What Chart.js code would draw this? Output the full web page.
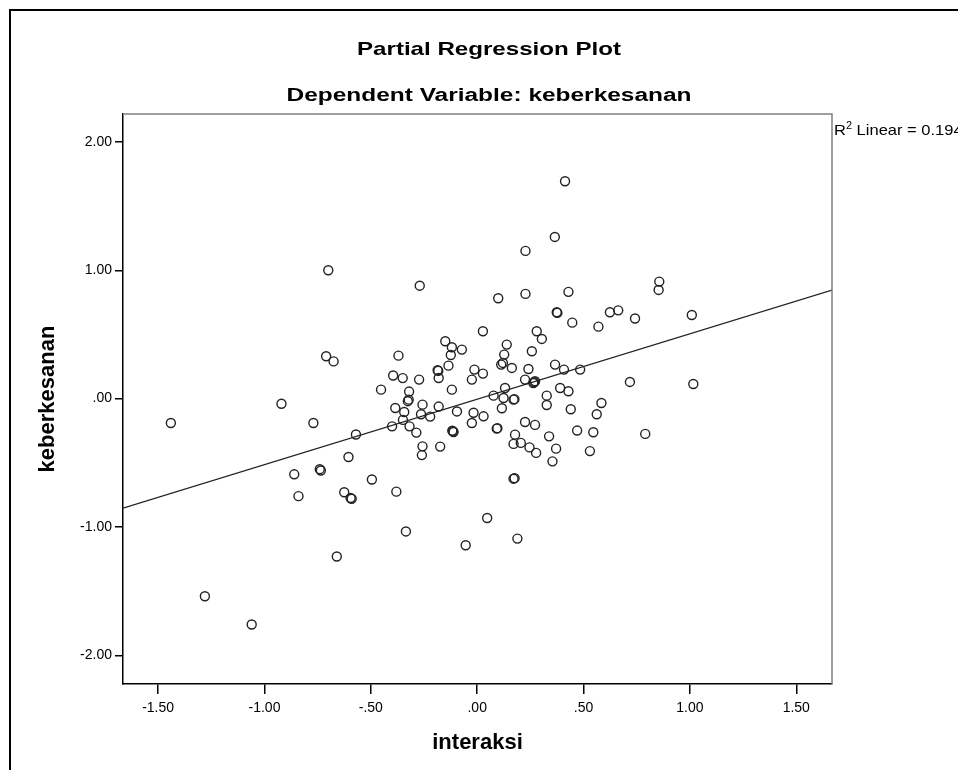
<!DOCTYPE html>
<html>
<head>
<meta charset="utf-8">
<title>Partial Regression Plot</title>
<script src="https://cdn.jsdelivr.net/npm/chart.js@4.4.1/dist/chart.umd.min.js"></script>
<style>
  html, body { margin: 0; padding: 0; background: #fff; }
  canvas { display: block; }
</style>
</head>
<body>
<canvas id="myChart" width="958" height="770"></canvas>
<script>
// values (x = interaksi, y = keberkesanan)
const interaksi = [
  -1.44, -1.28, -1.06, -0.92, -0.77, -0.70, -0.71, -0.675, -0.86, -0.84,
  -0.74, -0.735, -0.66, -0.625, -0.595, -0.59, -0.605, -0.57, -0.495, -0.38,
  -0.335, -0.27, -0.37, -0.395, -0.35, -0.273, -0.452, -0.32, -0.322, -0.326,
  -0.385, -0.343, -0.257, -0.181, -0.264, -0.221, -0.349, -0.40, -0.318, -0.286,
  -0.257, -0.26, -0.174, -0.114, -0.111, -0.117, -0.15, -0.119, -0.072, -0.124,
  -0.135, -0.186, -0.183, -0.181, -0.119, -0.095, -0.017, -0.025, 0.03, -0.013,
  0.027, -0.025, 0.027, 0.099, 0.227, 0.227, 0.365, 0.413, 0.429, 0.856,
  0.853, 0.374, 0.377, 0.447, 0.57, 0.624, 0.663, 0.742, 1.009, 0.28,
  0.304, 0.139, 0.257, 0.127, 0.121, 0.113, 0.163, 0.241, 0.366, 0.408,
  0.484, 0.718, 1.016, 0.225, 0.272, 0.264, 0.268, 0.131, 0.077, 0.124,
  0.171, 0.175, 0.39, 0.429, 0.327, 0.327, 0.116, 0.44, 0.584, 0.562,
  0.092, 0.095, 0.225, 0.272, 0.178, 0.171, 0.205, 0.246, 0.277, 0.338,
  0.371, 0.354, 0.47, 0.546, 0.53, 0.79, 0.171, 0.176, 0.047, 0.189,
  -0.054
]
const keberkesanan = [
  -0.19, -1.54, -1.76, -0.04, -0.19, 1.00, 0.33, 0.29, -0.59, -0.76,
  -0.55, -0.56, -1.23, -0.73, -0.775, -0.78, -0.455, -0.28, -0.63, -0.725,
  -1.035, 0.88, 0.335, 0.18, 0.16, 0.148, 0.07, 0.055, -0.008, -0.02,
  -0.073, -0.104, -0.047, -0.062, -0.122, -0.14, -0.166, -0.216, -0.216, -0.265,
  -0.372, -0.44, -0.374, -0.255, -0.26, -0.25, 0.447, 0.40, 0.382, 0.34,
  0.257, 0.221, 0.216, 0.161, 0.07, -0.10, -0.11, -0.19, -0.138, 0.226,
  0.195, 0.148, 0.525, 0.782, 0.816, 1.151, 1.26, 1.694, 0.832, 0.912,
  0.847, 0.673, 0.668, 0.592, 0.561, 0.673, 0.688, 0.624, 0.652, 0.525,
  0.465, 0.421, 0.369, 0.343, 0.278, 0.265, 0.239, 0.231, 0.265, 0.226,
  0.226, 0.13, 0.114, 0.148, 0.135, 0.122, 0.128, 0.083, 0.023, 0.005,
  -0.008, -0.004, 0.083, 0.057, 0.023, -0.05, -0.075, -0.083, -0.034, -0.122,
  -0.234, -0.23, -0.182, -0.205, -0.281, -0.353, -0.345, -0.38, -0.423, -0.294,
  -0.39, -0.489, -0.249, -0.262, -0.409, -0.275, -0.624, -0.62, -0.93, -1.091,
  -1.143
]
const xTicks = [-1.5, -1, -0.5, 0, 0.5, 1, 1.5]
const yTicks = [-2, -1, 0, 1, 2]
const xRange = [-1.665, 1.668]
const yRange = [-2.224, 2.218]
// fit line shown in the plot
const fitSlope = 0.51
const fitIntercept = -0.005
const rSquared = 0.194

const FONT = '"Liberation Sans", Arial, sans-serif'

// SPSS style labels: .00, -.50, 1.00
function spssLabel(v) {
  return Number(v).toFixed(2).replace(/^(-?)0\./, '$1.')
}

// draw text centred at (cx, cy), stretched to a given width
function stretchText(ctx, text, cx, cy, font, width) {
  ctx.save()
  ctx.font = font
  const w = ctx.measureText(text).width
  ctx.translate(cx, cy)
  ctx.scale(width / w, 1)
  ctx.textAlign = 'center'
  ctx.textBaseline = 'middle'
  ctx.fillStyle = '#000'
  ctx.fillText(text, 0, 0)
  ctx.restore()
}

const points = interaksi.map((x, i) => ({ x: x, y: keberkesanan[i] }))
const fitLine = xRange.map(x => ({ x: x, y: fitIntercept + fitSlope * x }))

const decorations = {
  id: 'decorations',
  beforeDraw(chart) {
    const ctx = chart.ctx
    ctx.save()
    ctx.fillStyle = '#fff'
    ctx.fillRect(0, 0, chart.width, chart.height)
    ctx.restore()
  },
  afterDraw(chart) {
    const ctx = chart.ctx
    const a = chart.chartArea
    ctx.save()
    // outer frame
    ctx.strokeStyle = '#000'
    ctx.lineWidth = 2
    ctx.beginPath()
    ctx.moveTo(10, chart.height)
    ctx.lineTo(10, 10)
    ctx.lineTo(chart.width, 10)
    ctx.stroke()
    // grey top and right edge of the plot box
    ctx.strokeStyle = '#808080'
    ctx.lineWidth = 1.5
    ctx.beginPath()
    ctx.moveTo(a.left, a.top)
    ctx.lineTo(a.right, a.top)
    ctx.lineTo(a.right, a.bottom)
    ctx.stroke()
    ctx.restore()

    stretchText(ctx, 'Partial Regression Plot', 489, 50, 'bold 18.5px ' + FONT, 264)
    stretchText(ctx, 'Dependent Variable: keberkesanan', 489, 96, 'bold 18px ' + FONT, 405)

    // R2 label next to the box, slightly wide like the titles
    ctx.save()
    ctx.fillStyle = '#000'
    ctx.textBaseline = 'alphabetic'
    ctx.textAlign = 'left'
    ctx.translate(a.right + 2, 135)
    ctx.scale(1.1, 1)
    let x = 0
    ctx.font = '15px ' + FONT
    ctx.fillText('R', x, 0)
    x += ctx.measureText('R').width
    ctx.font = '10px ' + FONT
    ctx.fillText('2', x, -6)
    x += ctx.measureText('2').width
    ctx.font = '15px ' + FONT
    ctx.fillText(' Linear = ' + rSquared.toFixed(3), x, 0)
    ctx.restore()
  }
}

const ctx = document.getElementById('myChart').getContext('2d')

const chart = new Chart(ctx, {
  type: 'scatter',
  data: {
    datasets: [{
      label: 'keberkesanan',
      data: points,
      pointStyle: 'circle',
      pointRadius: 4.5,
      pointBorderWidth: 1.4,
      pointBorderColor: '#222',
      pointBackgroundColor: 'rgba(0,0,0,0)',
      showLine: false
    }, {
      type: 'line',
      label: 'Linear',
      data: fitLine,
      borderColor: '#222',
      borderWidth: 1.2,
      pointRadius: 0,
      fill: false
    }]
  },
  options: {
    responsive: false,
    animation: false,
    devicePixelRatio: 1,
    layout: { padding: { left: 0, top: 114, right: 126, bottom: 0 } },
    plugins: {
      legend: { display: false },
      tooltip: { enabled: false },
      title: { display: false }
    },
    scales: {
      x: {
        type: 'linear',
        min: xRange[0],
        max: xRange[1],
        afterBuildTicks: s => { s.ticks = xTicks.map(v => ({ value: v })) },
        afterFit: s => { s.height = 86 },
        grid: { drawOnChartArea: false, drawTicks: true, tickLength: 10, color: '#000', lineWidth: 1.5 },
        border: { display: true, color: '#000', width: 1.5 },
        ticks: {
          color: '#000', font: { family: FONT, size: 14 }, padding: 6,
          maxRotation: 0, autoSkip: false, callback: v => spssLabel(v)
        },
        title: {
          display: true, text: 'interaksi', color: '#000',
          font: { family: FONT, size: 22, weight: 'bold' }, padding: { top: 0, bottom: 14 }
        }
      },
      y: {
        type: 'linear',
        min: yRange[0],
        max: yRange[1],
        afterBuildTicks: s => { s.ticks = yTicks.map(v => ({ value: v })) },
        afterFit: s => { s.width = 123 },
        grid: { drawOnChartArea: false, drawTicks: true, tickLength: 8, color: '#000', lineWidth: 1.5 },
        border: { display: true, color: '#000', width: 1.5 },
        ticks: {
          color: '#000', font: { family: FONT, size: 14 }, padding: 3,
          autoSkip: false, callback: v => spssLabel(v)
        },
        title: {
          display: true, text: 'keberkesanan', color: '#000',
          font: { family: FONT, size: 22, weight: 'bold' }, padding: { top: 35, bottom: 0 }
        }
      }
    }
  },
  plugins: [decorations]
})
</script>
</body>
</html>
